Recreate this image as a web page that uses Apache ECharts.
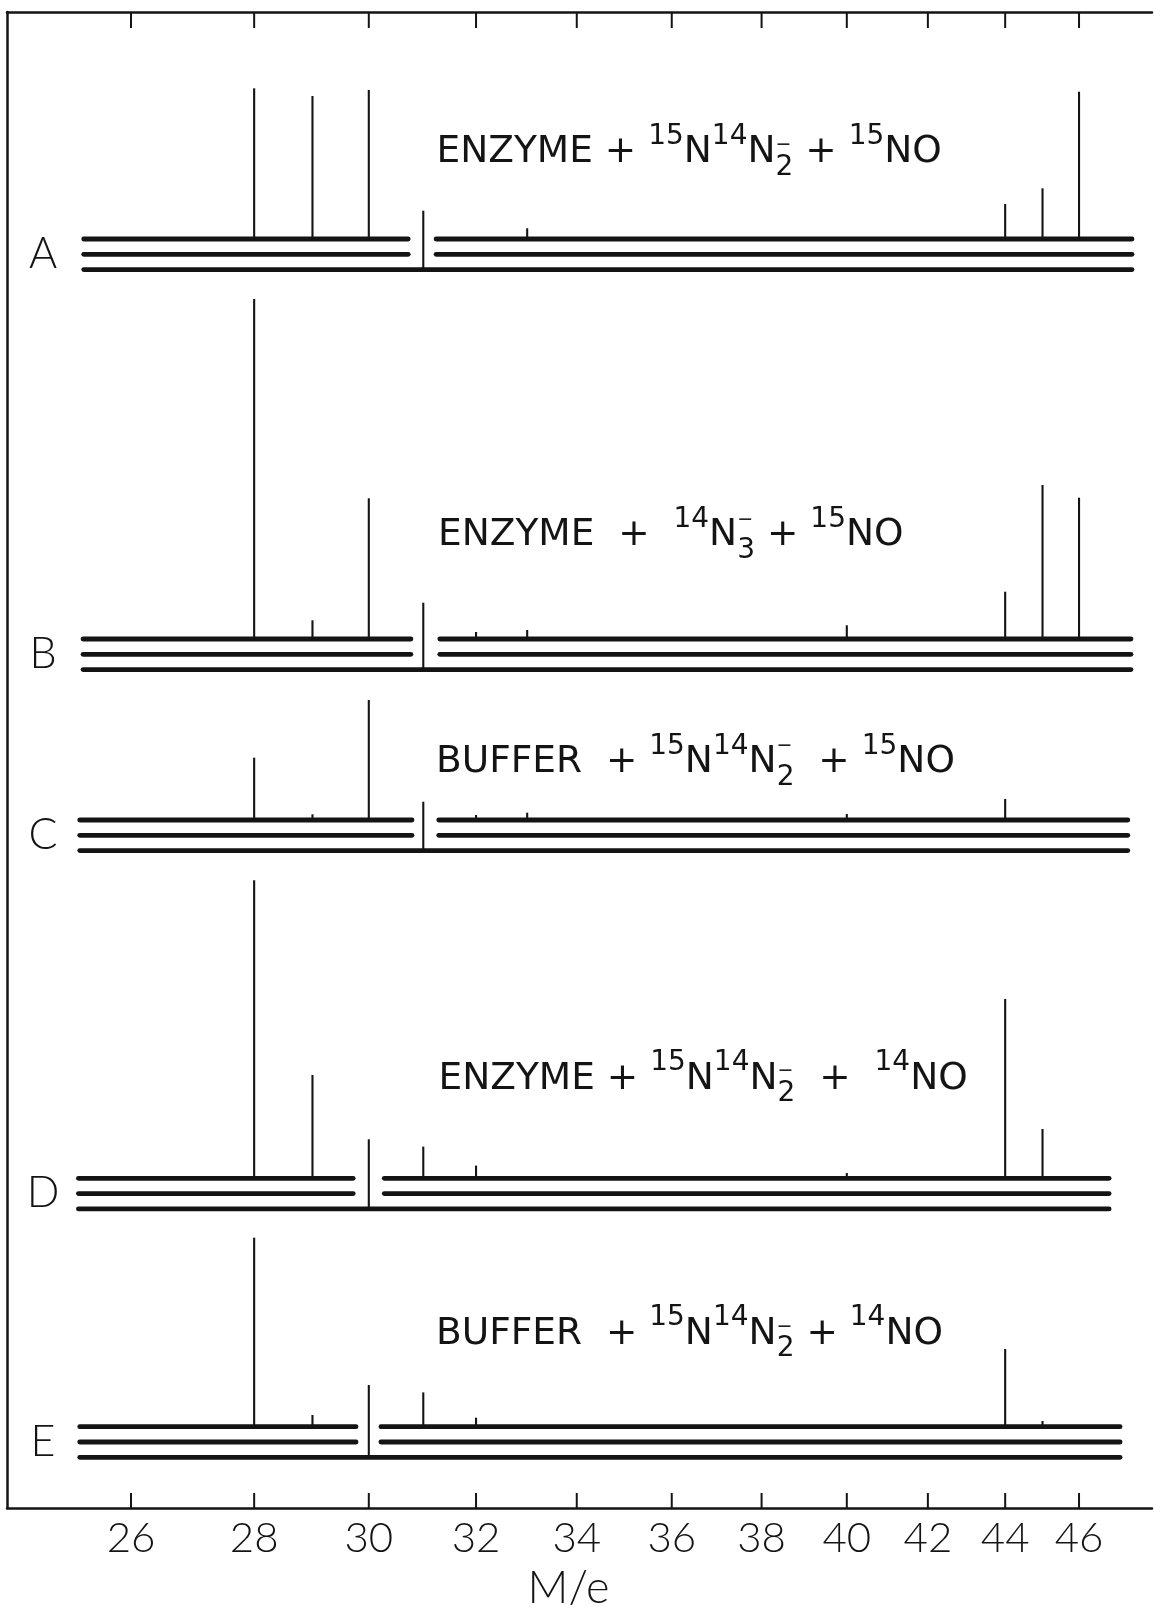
<!DOCTYPE html>
<html>
<head>
<meta charset="utf-8">
<script src="https://cdn.jsdelivr.net/npm/echarts@6/dist/echarts.min.js"></script>
<style>
html,body{margin:0;padding:0;background:#ffffff;}
#chart{width:1154px;height:1610px;}
</style>
</head>
<body>
<div id="chart"></div>
<script>
// ================= DATA =================
// x axis: M/e, magnetic-scan spectrum (logarithmic spacing)
const massTicks = [26, 28, 30, 32, 34, 36, 38, 40, 42, 44, 46];
const massRange = [24.13, 48.065];
const axisTitle = 'M/e';

const panelLetters = ['A', 'B', 'C', 'D', 'E'];
const panelCaptions = [
  '{m|ENZYME + }{sup|15}{m|N}{sup|14}{m|N}{minus|\u2212}{sub|2}{m| + }{sup|15}{m|NO}',
  '{m|ENZYME  +  }{sup|14}{m|N}{minus|\u2212}{sub|3}{m| + }{sup|15}{m|NO}',
  '{m|BUFFER  + }{sup|15}{m|N}{sup|14}{m|N}{minus|\u2212}{sub|2}{m|  + }{sup|15}{m|NO}',
  '{m|ENZYME + }{sup|15}{m|N}{sup|14}{m|N}{minus|\u2212}{sub|2}{m|  +  }{sup|14}{m|NO}',
  '{m|BUFFER  + }{sup|15}{m|N}{sup|14}{m|N}{minus|\u2212}{sub|2}{m| + }{sup|14}{m|NO}'
];

// peaks: [M/e, peak height (arbitrary units)]
const peaksA = [[28, 150.7], [29, 143], [30, 149], [33, 10.7], [44, 35], [45, 50.7], [46, 147.3]];
const peaksB = [[28, 340], [29, 18.7], [30, 140.7], [32, 7], [33, 9], [40, 13.7], [44, 47.3], [45, 154], [46, 141.3]];
const peaksC = [[28, 62.3], [29, 5.7], [30, 120], [32, 5], [33, 7.3], [40, 6], [44, 21]];
const peaksD = [[28, 298], [29, 103.3], [31, 31.7], [32, 12.7], [40, 5.3], [44, 179.3], [45, 49.3]];
const peaksE = [[28, 189], [29, 11.7], [31, 34.3], [32, 9], [44, 77.7], [45, 5.7]];

// range-change marker at the trace break: [M/e, height above trace]
const markerA = [31, 28.3];
const markerB = [31, 36.3];
const markerC = [31, 18.3];
const markerD = [30, 39];
const markerE = [30, 41.7];

// recorded trace extent in M/e: [start, break start, break end, end]
const traceA = [25.27, 30.72, 31.24, 47.49];
const traceB = [25.26, 30.77, 31.31, 47.46];
const traceC = [25.21, 30.79, 31.29, 47.37];
const traceD = [25.19, 29.72, 30.28, 46.84];
const traceE = [25.21, 29.77, 30.22, 47.15];

// ================= LAYOUT / STYLE =================
const INK = '#141414';
const FONT = 'Lato, "Open Sans", "DejaVu Sans", sans-serif';
const CAPFONT = '"DejaVu Sans", "Liberation Sans", sans-serif';
const FRAME = {left: 7, right: 1152, top: 12, bottom: 1508};
const baselines = [239, 639, 820, 1178.3, 1426.7];
const capCenters = [152.5, 535.5, 762.5, 1079, 1334];
const captionLeft = [436.5, 438, 436, 438.5, 436];
const minusLift = [7, 15, 16, 8, 7];
const panelHeadroom = [220, 360, 360, 360, 360];
const LINE_GAP = 15.3;
const BELOW = 40;

const peaks = [peaksA, peaksB, peaksC, peaksD, peaksE];
const markers = [markerA, markerB, markerC, markerD, markerE];
const traces = [traceA, traceB, traceC, traceD, traceE];

const chart = echarts.init(document.getElementById('chart'), null, {renderer: 'canvas'});

const grids = [{
  left: FRAME.left, right: 1154 - FRAME.right, top: FRAME.top, bottom: 1610 - FRAME.bottom,
  containLabel: false, outerBoundsMode: 'none'
}];
const xAxes = [
  {type: 'log', logBase: 10, gridIndex: 0, position: 'bottom', min: massRange[0], max: massRange[1],
   axisLine: {show: true, onZero: false, lineStyle: {color: INK, width: 2.5}},
   axisTick: {show: false}, axisLabel: {show: false}, splitLine: {show: false}, minorTick: {show: false},
   name: axisTitle, nameLocation: 'middle', nameGap: 58,
   nameTextStyle: {fontFamily: FONT, fontWeight: 300, fontSize: 45, color: INK, padding: [0, 22, 0, 0]}},
  {type: 'log', logBase: 10, gridIndex: 0, position: 'top', min: massRange[0], max: massRange[1],
   axisLine: {show: true, onZero: false, lineStyle: {color: INK, width: 2.5}},
   axisTick: {show: false}, axisLabel: {show: false}, splitLine: {show: false}}
];
const yAxes = [
  {type: 'value', gridIndex: 0, position: 'left', min: 0, max: 1,
   axisLine: {show: true, onZero: false, lineStyle: {color: INK, width: 2.5}},
   axisTick: {show: false}, axisLabel: {show: false}, splitLine: {show: false}}
];

const series = [];

// frame ticks + tick labels (through the log scale)
series.push({
  type: 'custom', xAxisIndex: 0, yAxisIndex: 0, silent: true, clip: false,
  data: massTicks.map(v => [v, 0]),
  encode: {x: 0, y: 1},
  renderItem: function (params, api) {
    const v = api.value(0);
    const pb = api.coord([v, 0]);
    const pt = api.coord([v, 1]);
    return {type: 'group', children: [
      {type: 'line', shape: {x1: pb[0], y1: pb[1], x2: pb[0], y2: pb[1] - 15}, style: {stroke: INK, lineWidth: 2}},
      {type: 'line', shape: {x1: pt[0], y1: pt[1], x2: pt[0], y2: pt[1] + 16}, style: {stroke: INK, lineWidth: 2}},
      {type: 'text', x: pb[0], y: pb[1] + 30, style: {text: String(v), fontFamily: FONT, fontWeight: 300,
        fontSize: 42, fill: INK, align: 'center', verticalAlign: 'middle'}}
    ]};
  }
});

function lineEl(p0, p1, w, cap) {
  return {type: 'line', shape: {x1: p0[0], y1: p0[1], x2: p1[0], y2: p1[1]},
    style: {stroke: INK, lineWidth: w, lineCap: cap || 'butt'}};
}

const graphics = [];

for (let i = 0; i < 5; i++) {
  const gi = i + 1;       // grid / yAxis index
  const xi = i + 2;       // xAxis index (0,1 are the frame axes)
  const H = panelHeadroom[i];
  grids.push({left: FRAME.left, right: 1154 - FRAME.right, top: baselines[i] - H, height: H + BELOW,
    containLabel: false, outerBoundsMode: 'none'});
  xAxes.push({type: 'log', logBase: 10, gridIndex: gi, min: massRange[0], max: massRange[1], show: false});
  yAxes.push({type: 'value', gridIndex: gi, min: -BELOW, max: H, show: false});

  // three recorder traces (upper two broken at the range-change point)
  const t = traces[i];
  const segs = [[t[0], t[1], 0], [t[2], t[3], 0], [t[0], t[1], 1], [t[2], t[3], 1], [t[0], t[3], 2]];
  series.push({
    type: 'custom', xAxisIndex: xi, yAxisIndex: gi, silent: true, clip: false,
    data: segs, encode: {x: [0, 1], y: 2},
    renderItem: function (params, api) {
      const y = -api.value(2) * LINE_GAP;
      return lineEl(api.coord([api.value(0), y]), api.coord([api.value(1), y]), 4.8, 'round');
    }
  });
  // peaks
  series.push({
    type: 'custom', xAxisIndex: xi, yAxisIndex: gi, silent: true, clip: false,
    data: peaks[i], encode: {x: 0, y: 1},
    renderItem: function (params, api) {
      const m = api.value(0);
      return lineEl(api.coord([m, 0]), api.coord([m, api.value(1)]), 2.1);
    }
  });
  // marker at the break
  series.push({
    type: 'custom', xAxisIndex: xi, yAxisIndex: gi, silent: true, clip: false,
    data: [markers[i]], encode: {x: 0, y: 1},
    renderItem: function (params, api) {
      const m = api.value(0);
      return lineEl(api.coord([m, -2 * LINE_GAP]), api.coord([m, api.value(1)]), 2.1);
    }
  });

  graphics.push({
    type: 'text', x: 43, y: baselines[i] + LINE_GAP, silent: true,
    style: {text: panelLetters[i], fontFamily: FONT, fontWeight: 300, fontSize: 43, fill: INK,
      align: 'center', verticalAlign: 'middle'}
  });
  const mh = 2 * (32 - minusLift[i]);
  graphics.push({
    type: 'text', x: captionLeft[i], y: capCenters[i] - 32, silent: true,
    style: {
      text: panelCaptions[i], align: 'left', verticalAlign: 'top', fill: INK,
      fontFamily: CAPFONT, fontSize: 37.5,
      rich: {
        m: {fontFamily: CAPFONT, fontSize: 37.5, lineHeight: 64, fill: INK},
        sup: {fontFamily: CAPFONT, fontSize: 28, verticalAlign: 'top', height: 32, lineHeight: 32, fill: INK},
        sub: {fontFamily: CAPFONT, fontSize: 28, verticalAlign: 'bottom', height: 34, lineHeight: 34, fill: INK},
        minus: {fontFamily: CAPFONT, fontSize: 19, verticalAlign: 'top', height: mh, lineHeight: mh, width: 0.1, fill: INK}
      }
    }
  });
}

chart.setOption({
  backgroundColor: '#ffffff',
  animation: false,
  grid: grids,
  xAxis: xAxes,
  yAxis: yAxes,
  series: series,
  graphic: {elements: graphics}
});
</script>
</body>
</html>
